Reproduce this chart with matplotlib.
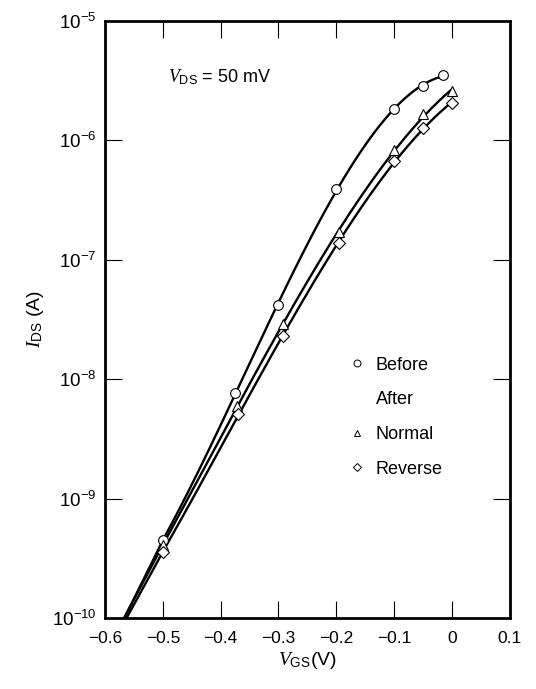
import matplotlib
matplotlib.use('Agg')
import matplotlib.pyplot as plt
import numpy as np
from matplotlib.lines import Line2D
from matplotlib.ticker import FixedLocator, FuncFormatter, NullLocator

plt.rcParams['font.family'] = ['Liberation Sans', 'DejaVu Sans']
plt.rcParams['mathtext.fontset'] = 'custom'
plt.rcParams['mathtext.rm'] = 'Liberation Sans'
plt.rcParams['mathtext.it'] = 'Liberation Serif:italic'

# gate voltage (V) and drain current (A)
before_v = [-0.5, -0.375, -0.3, -0.2, -0.1, -0.05, -0.015]
before_i = [4.5e-10, 7.6e-9, 4.2e-8, 3.9e-7, 1.82e-6, 2.83e-6, 3.5e-6]

normal_v = [-0.5, -0.372, -0.292, -0.195, -0.1, -0.05, 0.0]
normal_i = [4.1e-10, 6.0e-9, 2.9e-8, 1.7e-7, 8.2e-7, 1.65e-6, 2.57e-6]

reverse_v = [-0.5, -0.37, -0.292, -0.195, -0.1, -0.05, 0.0]
reverse_i = [3.6e-10, 5.1e-9, 2.3e-8, 1.38e-7, 6.7e-7, 1.26e-6, 2.04e-6]

x_ticks = [-0.6, -0.5, -0.4, -0.3, -0.2, -0.1, 0.0, 0.1]
y_ticks = [1e-10, 1e-9, 1e-8, 1e-7, 1e-6, 1e-5]

fig = plt.figure(figsize=(5.36, 6.89), dpi=100)
ax = fig.add_axes([0.196, 0.103, 0.755, 0.867])

def fitted(v, i):
    # smooth fit in log space; below the first point the straight
    # subthreshold slope of the first two points is continued
    v = np.asarray(v)
    li = np.log10(i)
    p = np.polyfit(v, li, 3)
    vv = np.linspace(v[0], v[-1], 300)
    ll = np.polyval(p, vv)
    ll += (li[0] - ll[0]) * np.clip((v[1] - vv) / (v[1] - v[0]), 0, 1)
    slope = (li[1] - li[0]) / (v[1] - v[0])
    vlow = np.linspace(-0.6, v[0], 40)
    llow = li[0] + slope * (vlow - v[0])
    return np.r_[vlow, vv], 10 ** np.r_[llow, ll]

for v, i, m, ms in [(before_v, before_i, 'o', 7),
                    (normal_v, normal_i, '^', 7),
                    (reverse_v, reverse_i, 'D', 6)]:
    vv, ii = fitted(v, i)
    ax.plot(vv, ii, color='black', linewidth=1.7, zorder=2)
    ax.plot(v, i, linestyle='none', marker=m, markersize=ms,
            markerfacecolor='white', markeredgecolor='black',
            markeredgewidth=0.8, zorder=3)

ax.set_yscale('log')
ax.set_xlim(-0.6, 0.1)
ax.set_ylim(1e-10, 1e-5)
ax.xaxis.set_major_locator(FixedLocator(x_ticks))
ax.xaxis.set_major_formatter(FuncFormatter(
    lambda x, pos: '0' if abs(x) < 1e-9 else ('%.1f' % x).replace('-', '\u2212')))
ax.yaxis.set_major_locator(FixedLocator(y_ticks))
ax.yaxis.set_minor_locator(NullLocator())
ax.xaxis.set_minor_locator(NullLocator())

ax.tick_params(which='major', direction='in', length=12, width=0.8,
               top=True, right=True, labelsize=12.5)
ax.tick_params(axis='x', pad=9)
ax.tick_params(axis='y', labelsize=13.5, pad=6)
for s in ax.spines.values():
    s.set_linewidth(2)

ax.set_xlabel(r'$V_{\mathrm{GS}}$(V)', fontsize=14, labelpad=3)
ax.set_ylabel(r'$I_{\mathrm{DS}}$ (A)', fontsize=14, labelpad=4)

ax.text(0.155, 0.905, r'$V_{\mathrm{DS}}$ = 50 mV', transform=ax.transAxes,
        fontsize=13, va='center')

handles = [
    Line2D([], [], linestyle='none', marker='o', markersize=5,
           markerfacecolor='white', markeredgecolor='black', markeredgewidth=0.7),
    Line2D([], [], linestyle='none', marker=None),
    Line2D([], [], linestyle='none', marker='^', markersize=5,
           markerfacecolor='white', markeredgecolor='black', markeredgewidth=0.7),
    Line2D([], [], linestyle='none', marker='D', markersize=4.5,
           markerfacecolor='white', markeredgecolor='black', markeredgewidth=0.7),
]
ax.legend(handles, ['Before', 'After', 'Normal', 'Reverse'], frameon=False,
          loc='upper left', bbox_to_anchor=(0.56, 0.465), fontsize=13,
          handlelength=1.0, handletextpad=0.55, labelspacing=0.98)

fig.savefig('out.png', dpi=100)
